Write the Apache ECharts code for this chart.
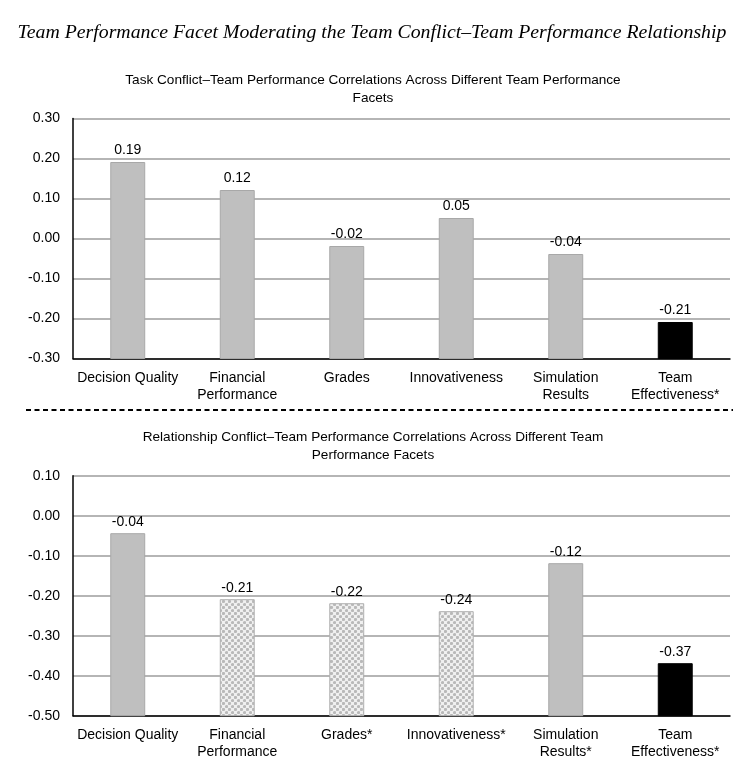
<!DOCTYPE html>
<html><head><meta charset="utf-8">
<script src="https://cdn.jsdelivr.net/npm/echarts@6/dist/echarts.min.js"></script>
<style>html,body{margin:0;padding:0;background:#fff}#c{width:747px;height:766px}</style>
</head><body><div id="c"></div>
<script>
const mainTitle = 'Team Performance Facet Moderating the Team Conflict\u2013Team Performance Relationship';
const taskTitle = 'Task Conflict\u2013Team Performance Correlations Across Different Team Performance\nFacets';
const relTitle = 'Relationship Conflict\u2013Team Performance Correlations Across Different Team\nPerformance Facets';
const taskCategories = ['Decision Quality', 'Financial\nPerformance', 'Grades', 'Innovativeness', 'Simulation\nResults', 'Team\nEffectiveness*'];
const relCategories = ['Decision Quality', 'Financial\nPerformance', 'Grades*', 'Innovativeness*', 'Simulation\nResults*', 'Team\nEffectiveness*'];
const taskValues = [0.19, 0.12, -0.02, 0.05, -0.04, -0.21];
const relValues = [-0.045, -0.21, -0.22, -0.24, -0.12, -0.37];
// fill style per bar: 's' solid gray, 'p' patterned, 'k' black
const taskStyles = ['s', 's', 's', 's', 's', 'k'];
const relStyles = ['s', 'p', 'p', 'p', 's', 'k'];
const taskAxis = {min: -0.3, max: 0.3, interval: 0.1};
const relAxis = {min: -0.5, max: 0.1, interval: 0.1};

const tile = document.createElement('canvas');
tile.width = 6; tile.height = 6;
(function(){
  const g = tile.getContext('2d');
  g.fillStyle = '#f0f0f0'; g.fillRect(0,0,6,6);
  g.fillStyle = '#b9b9b9';
  [[1.5,1.5],[4.5,4.5]].forEach(p=>{g.beginPath();g.arc(p[0],p[1],1.6,0,Math.PI*2);g.fill();});
})();
const patternFill = {image: tile, repeat: 'repeat'};

const FONT = '"Liberation Sans", Arial, sans-serif';

function makeSeries(idx, values, styles, axisMin) {
  return {
    type: 'custom', xAxisIndex: idx, yAxisIndex: idx,
    data: values.map((v,i)=>[i, v]),
    renderItem: function(params, api) {
      const i = api.value(0), v = api.value(1);
      const top = api.coord([i, v]);
      const bot = api.coord([i, axisMin]);
      const w = api.size([1, 0])[0] * 0.31;
      const st = styles[params.dataIndex];
      let fill = '#bfbfbf', stroke = '#a8a8a8';
      if (st === 'k') { fill = '#000'; stroke = '#000'; }
      if (st === 'p') { fill = patternFill; stroke = '#b0b0b0'; }
      return {
        type: 'group',
        children: [
          {type: 'rect', shape: {x: top[0]-w/2, y: top[1], width: w, height: bot[1]-top[1]},
           style: {fill: fill, stroke: stroke, lineWidth: 1}},
          {type: 'text', x: top[0], y: top[1]-5,
           style: {text: v.toFixed(2), fill: '#000', font: '14px ' + FONT, align: 'center', verticalAlign: 'bottom'}}
        ]
      };
    }
  };
}

function yAxis(idx, ax) {
  return {
    type: 'value', gridIndex: idx, min: ax.min, max: ax.max, interval: ax.interval,
    axisLine: {show: true, lineStyle: {color: '#000', width: 1.5}},
    axisTick: {show: false},
    splitLine: {show: true, lineStyle: {color: '#b5b5b5', width: 2}},
    axisLabel: {color: '#000', fontSize: 14, fontFamily: FONT, margin: 13, formatter: v => v.toFixed(2)}
  };
}
function xAxis(idx, cats) {
  return {
    type: 'category', gridIndex: idx, data: cats,
    axisLine: {show: true, onZero: false, lineStyle: {color: '#000', width: 1.5}},
    axisTick: {show: false},
    axisLabel: {color: '#000', fontSize: 14, fontFamily: FONT, margin: 11, lineHeight: 17, interval: 0}
  };
}

const chart = echarts.init(document.getElementById('c'), null, {renderer: 'canvas'});
chart.setOption({
  animation: false,
  backgroundColor: '#fff',
  grid: [
    {left: 73, right: 17, top: 118.5, height: 240},
    {left: 73, right: 17, top: 475.7, height: 240}
  ],
  xAxis: [xAxis(0, taskCategories), xAxis(1, relCategories)],
  yAxis: [yAxis(0, taskAxis), yAxis(1, relAxis)],
  series: [makeSeries(0, taskValues, taskStyles, taskAxis.min), makeSeries(1, relValues, relStyles, relAxis.min)],
  graphic: [
    {type: 'text', x: 372, y: 33, style: {text: mainTitle, font: 'italic 19.8px "Liberation Serif", "Times New Roman", serif', fill: '#000', align: 'center', verticalAlign: 'middle'}},
    {type: 'text', x: 373, y: 71, style: {text: taskTitle, font: '13.6px ' + FONT, lineHeight: 18, fill: '#000', align: 'center', verticalAlign: 'top'}},
    {type: 'text', x: 373, y: 428, style: {text: relTitle, font: '13.6px ' + FONT, lineHeight: 18, fill: '#000', align: 'center', verticalAlign: 'top'}},
    {type: 'line', shape: {x1: 26, y1: 410, x2: 733, y2: 410}, style: {stroke: '#000', lineWidth: 2, lineDash: [5, 3.5]}}
  ]
});
</script></body></html>
